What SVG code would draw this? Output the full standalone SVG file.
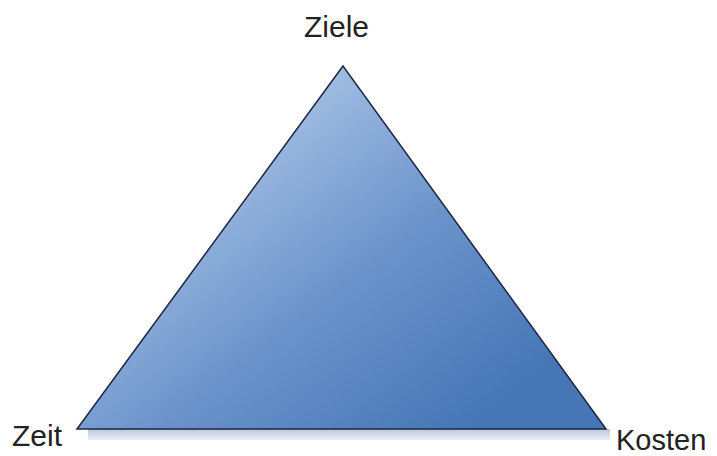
<svg xmlns="http://www.w3.org/2000/svg" width="717" height="456" viewBox="0 0 717 456">
<style>
.lbl{font-family:"Liberation Sans",Arial,sans-serif;font-size:30px;fill:#222}
</style>
<defs>
<linearGradient id="g" x1="250" y1="120" x2="480" y2="420" gradientUnits="userSpaceOnUse">
<stop offset="0" stop-color="#a3bfe3"/>
<stop offset="0.5" stop-color="#6b93cb"/>
<stop offset="1" stop-color="#4676b6"/>
</linearGradient>
<linearGradient id="sh" x1="0" y1="0" x2="0" y2="1">
<stop offset="0" stop-color="#b9c6d9"/>
<stop offset="1" stop-color="#eef1f6"/>
</linearGradient>
</defs>
<rect width="717" height="456" fill="#fff"/>
<g id="shadow"><rect x="88" y="429" width="522" height="11" fill="url(#sh)"/></g>
<g id="triangle">
<polygon points="343,66 77,429 606,429" fill="url(#g)" stroke="#1c2540" stroke-width="1.5" stroke-linejoin="miter"/>
</g>
<g id="ziele"><text class="lbl" x="304" y="37">Ziele</text></g>
<g id="zeit"><text class="lbl" x="12" y="446">Zeit</text></g>
<g id="kosten"><text class="lbl" x="616" y="450" style="font-size:29px">Kosten</text></g>
</svg>
